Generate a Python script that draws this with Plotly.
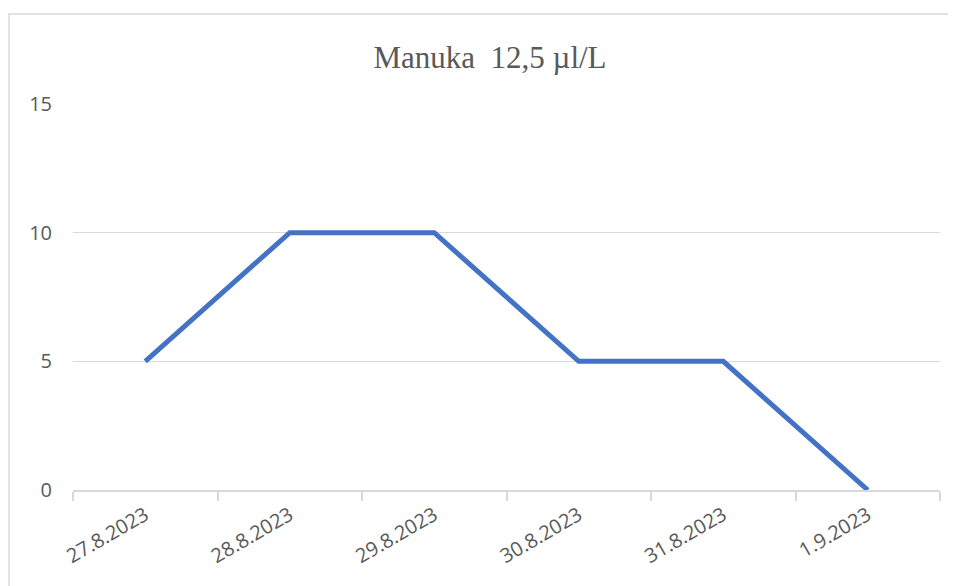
import plotly.graph_objects as go

dates = ['27.8.2023', '28.8.2023', '29.8.2023', '30.8.2023', '31.8.2023', '1.9.2023']
values = [5, 10, 10, 5, 5, 0]
y_ticks = [0, 5, 10, 15]

grid = '#d9d9d9'
text_gray = '#595959'

fig = go.Figure()

fig.add_trace(go.Scatter(
    x=dates,
    y=values,
    mode='lines',
    line=dict(color='#4472C4', width=5),
    showlegend=False
))

# page has an 8px body margin, so lay everything out 8px up/left
OFF = 8
W, H = 956, 586
L, T = 73 - OFF, 104 - OFF
R, B = W - (940 - OFF), H - (490 - OFF)
pw, ph = W - L - R, H - T - B

# chart frame like an Excel chart area border
fig.add_shape(
    type='rect', xref='paper', yref='paper',
    x0=(9 - OFF - L) / pw, x1=(951 - OFF - L) / pw,
    y0=(H - B - 640) / ph, y1=(H - B - (14 - OFF)) / ph,
    line=dict(color=grid, width=1.5), layer='below'
)

fig.update_layout(
    width=W, height=H,
    margin=dict(l=L, r=R, t=T, b=B),
    paper_bgcolor='white',
    plot_bgcolor='white',
    title=dict(
        text='Manuka  12,5 µl/L',
        x=(490 - OFF - L) / pw, xref='paper', xanchor='center',
        y=1 - (57 - OFF) / H, yanchor='middle',
        font=dict(family='Liberation Serif', size=31, color=text_gray)
    ),
    xaxis=dict(
        type='category',
        range=[-0.5, 5.5],
        showgrid=False,
        showline=True, linecolor=grid, linewidth=1.5,
        ticks='outside', tickson='boundaries', ticklen=9, tickcolor=grid, tickwidth=1.5,
        tickangle=-30,
        ticklabelstandoff=4,
        tickfont=dict(family='Open Sans', size=20, color=text_gray)
    ),
    yaxis=dict(
        range=[0, 15],
        tickvals=y_ticks,
        showgrid=True, gridcolor=grid, gridwidth=1.2,
        zeroline=False,
        showline=False,
        ticks='',
        ticklabelstandoff=20,
        tickfont=dict(family='Open Sans', size=20, color=text_gray)
    ),
)

fig.write_html('out.html')
